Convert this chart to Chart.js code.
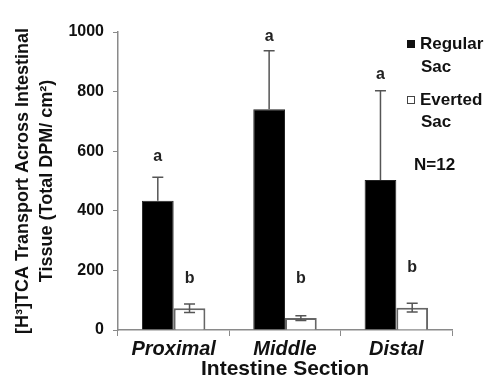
<!DOCTYPE html>
<html>
<head>
<meta charset="utf-8">
<script src="https://cdn.jsdelivr.net/npm/chart.js@4"></script>
<style>
  html, body { margin: 0; padding: 0; background: #fff; }
  #wrap { width: 489px; height: 381px; }
</style>
</head>
<body>
<div id="wrap"><canvas id="chart" width="489" height="381"></canvas></div>
<script>
// ── Data ──
const sections      = ["Proximal", "Middle", "Distal"];
const regularMeans  = [434, 741, 503];
const regularErr    = [79, 196, 300];
const evertedMeans  = [73, 40, 75];
const evertedErr    = [14, 8, 15];
const regularLetter = ["a", "a", "a"];
const evertedLetter = ["b", "b", "b"];
const regularLetterAt = [582, 985, 856];
const evertedLetterAt = [171, 171, 211];
const yTickValues   = [0, 200, 400, 600, 800, 1000];

const AXIS_GREY = "#8a8a8a";
const ERR_GREY  = "#555";
const FONT      = "'Liberation Sans', Arial, sans-serif";

// ── Error bars + significance letters ──
const errorBars = {
  id: "errorBars",
  afterDatasetsDraw(chart) {
    const ctx = chart.ctx;
    const y   = chart.scales.y;
    const sets = [
      { means: regularMeans, errs: regularErr, both: false },
      { means: evertedMeans, errs: evertedErr, both: true },
    ];
    ctx.save();
    ctx.strokeStyle = ERR_GREY;
    ctx.lineWidth = 1.5;
    sets.forEach((s, i) => {
      chart.getDatasetMeta(i).data.forEach((bar, j) => {
        const x   = bar.x;
        const top = y.getPixelForValue(s.means[j] + s.errs[j]);
        const bot = s.both ? y.getPixelForValue(s.means[j] - s.errs[j])
                           : y.getPixelForValue(s.means[j]);
        ctx.beginPath();
        ctx.moveTo(x, top); ctx.lineTo(x, bot);
        ctx.moveTo(x - 5.5, top); ctx.lineTo(x + 5.5, top);
        if (s.both) { ctx.moveTo(x - 5.5, bot); ctx.lineTo(x + 5.5, bot); }
        ctx.stroke();
      });
    });

    ctx.fillStyle = "#222";
    ctx.font = `bold 16px ${FONT}`;
    ctx.textAlign = "center";
    ctx.textBaseline = "middle";
    chart.getDatasetMeta(0).data.forEach((bar, j) => {
      ctx.fillText(regularLetter[j], bar.x, y.getPixelForValue(regularLetterAt[j]));
    });
    chart.getDatasetMeta(1).data.forEach((bar, j) => {
      ctx.fillText(evertedLetter[j], bar.x, y.getPixelForValue(evertedLetterAt[j]));
    });
    ctx.restore();
  },
};

// ── Legend on the right, two lines per entry ──
const sideLegend = {
  id: "sideLegend",
  afterDraw(chart) {
    const ctx = chart.ctx;
    ctx.save();
    ctx.font = `bold 17px ${FONT}`;
    ctx.textAlign = "left";
    ctx.textBaseline = "middle";
    ctx.fillStyle = "#111";

    ctx.fillRect(407, 40, 8, 8);
    ctx.fillText("Regular", 420, 44);
    ctx.fillText("Sac", 421, 67);

    ctx.strokeStyle = "#444";
    ctx.lineWidth = 1;
    ctx.strokeRect(407.5, 96.5, 7, 7);
    ctx.fillText("Everted", 420, 100);
    ctx.fillText("Sac", 421, 122);

    ctx.fillText("N=12", 414, 165);
    ctx.restore();
  },
};

new Chart(document.getElementById("chart"), {
  type: "bar",
  data: {
    labels: sections,
    datasets: [
      {
        label: "Regular Sac",
        data: regularMeans,
        backgroundColor: "#000",
        borderColor: "#222",
        borderWidth: 1,
      },
      {
        label: "Everted Sac",
        data: evertedMeans,
        backgroundColor: "#fff",
        borderColor: "#666",
        borderWidth: 2,
      },
    ],
  },
  options: {
    responsive: false,
    animation: false,
    categoryPercentage: 0.57,
    barPercentage: 1.0,
    layout: { padding: { top: 32, right: 37, bottom: 0, left: 0 } },
    plugins: {
      legend: { display: false },
      tooltip: { enabled: false },
    },
    scales: {
      x: {
        grid: { drawOnChartArea: false, drawTicks: true, tickLength: 6, color: AXIS_GREY },
        border: { color: AXIS_GREY, width: 1.5 },
        ticks: { color: "#111", padding: 1, font: { family: FONT, size: 20, weight: "bold", style: "italic" } },
        title: {
          display: true,
          text: "Intestine Section",
          color: "#111",
          padding: { top: 0, bottom: 0 },
          font: { family: FONT, size: 21, weight: "bold", lineHeight: 1.1 },
        },
        afterFit(scale) { scale.height = 51; },
      },
      y: {
        min: 0,
        max: 1000,
        afterBuildTicks(scale) { scale.ticks = yTickValues.map(v => ({ value: v })); },
        grid: { drawOnChartArea: false, drawTicks: true, tickLength: 5, color: AXIS_GREY },
        border: { color: AXIS_GREY, width: 1.5 },
        ticks: {
          color: "#111",
          padding: 9,
          font: { family: FONT, size: 16, weight: "bold" },
          callback: v => String(v),
        },
        title: {
          display: true,
          text: ["[H\u00B3]TCA Transport Across Intestinal", "Tissue (Total DPM/ cm\u00B2)"],
          color: "#111",
          padding: { top: 12, bottom: 4 },
          font: { family: FONT, size: 18, weight: "bold", lineHeight: 1.28 },
        },
        afterFit(scale) { scale.width = 118; },
      },
    },
  },
  plugins: [errorBars, sideLegend],
});
</script>
</body>
</html>
